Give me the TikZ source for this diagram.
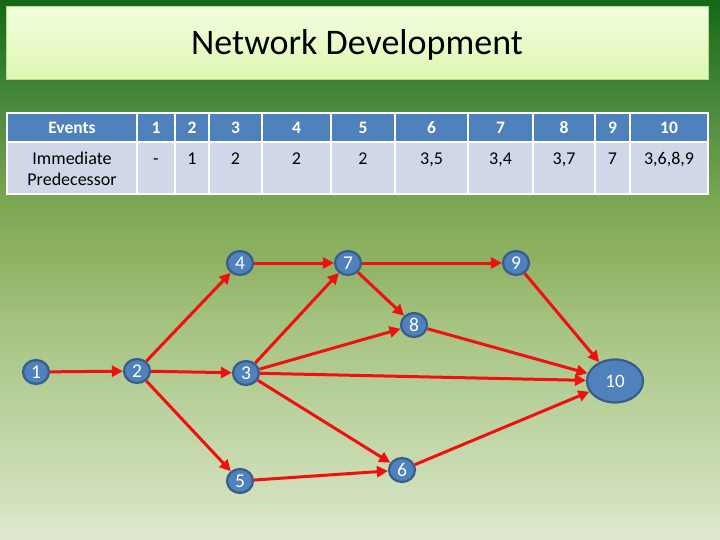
\documentclass[tikz,border=0pt]{standalone}
\usepackage{fontspec}
\setmainfont{Carlito}
\usetikzlibrary{arrows.meta,shapes.geometric}
\definecolor{bgA}{HTML}{E0E9D1}
\definecolor{bgB}{HTML}{D2E1BC}
\definecolor{bgC}{HTML}{A3C27F}
\definecolor{bgD}{HTML}{8FB264}
\definecolor{bgE}{HTML}{7AA752}
\definecolor{bgF}{HTML}{43843A}
\definecolor{bgG}{HTML}{156815}
\definecolor{hdrblue}{HTML}{4F81BD}
\definecolor{bodyblue}{HTML}{D0D8E8}
\definecolor{nodeborder}{HTML}{385D8A}
\definecolor{edgered}{HTML}{F01010}
\definecolor{titletop}{HTML}{F2FDDF}
\definecolor{titlebot}{HTML}{DFF7B2}
\definecolor{titleborder}{HTML}{B8DA8C}
\pgfdeclareverticalshading{bgshade}{100bp}{color(0bp)=(bgA); color(25bp)=(bgA); color(28.7bp)=(bgB); color(45.4bp)=(bgC); color(50.9bp)=(bgD); color(56.5bp)=(bgE); color(66.7bp)=(bgF); color(75bp)=(bgG); color(100bp)=(bgG)}
\tikzset{
  ev/.style={ellipse, draw=nodeborder, line width=2.2pt, fill=hdrblue, text=white,
    minimum width=26pt, minimum height=24pt, inner sep=0pt,
    font=\fontsize{19.5}{19.5}\selectfont},
  bigev/.style={ev, minimum width=56pt, minimum height=43pt, font=\fontsize{19}{19}\selectfont},
  arr/.style={draw=edgered, line width=3pt, -{Triangle[length=11pt,width=11pt]}},
  hdr/.style={anchor=base, text=white, inner sep=0pt, font=\fontsize{17.5}{20}\selectfont\bfseries},
  cell/.style={anchor=base, text=black, inner sep=0pt, font=\fontsize{18}{21}\selectfont},
}
\begin{document}
\begin{tikzpicture}[x=1pt,y=-1pt]
\useasboundingbox (0,0) rectangle (720,540);
\shade[shading=bgshade] (0,0) rectangle (720,540);
% title
\shade[top color=titletop, bottom color=titlebot, draw=titleborder, line width=1pt] (6,7) rectangle (708,80);
\node[anchor=base, inner sep=0pt, font=\fontsize{36}{36}\selectfont] (title) at (357,55) {Network Development};
% table
\fill[hdrblue] (7,113) rectangle (708,142);
\fill[bodyblue] (7,142) rectangle (708,194);
\foreach \x in {137,175,209,262,331,395,468,533,595,630}
  \draw[white, line width=2pt] (\x,113) -- (\x,194);
\draw[white, line width=2pt] (7,142) -- (708,142);
\draw[white, line width=2pt] (7,113) rectangle (708,194);
\node[hdr] (h0) at (72,133.5) {Events};
\node[hdr] (h1) at (156,133.5) {1};
\node[hdr] (h2) at (192,133.5) {2};
\node[hdr] (h3) at (235.5,133.5) {3};
\node[hdr] (h4) at (296.5,133.5) {4};
\node[hdr] (h5) at (363,133.5) {5};
\node[hdr] (h6) at (431.5,133.5) {6};
\node[hdr] (h7) at (500.5,133.5) {7};
\node[hdr] (h8) at (564,133.5) {8};
\node[hdr] (h9) at (612.5,133.5) {9};
\node[hdr] (h10) at (669,133.5) {10};
\node[cell, anchor=center, align=center] (b0) at (72,169) {Immediate\\Predecessor};
\node[cell] (b1) at (156,164.5) {-};
\node[cell] (b2) at (192,164.5) {1};
\node[cell] (b3) at (235.5,164.5) {2};
\node[cell] (b4) at (296.5,164.5) {2};
\node[cell] (b5) at (363,164.5) {2};
\node[cell] (b6) at (431.5,164.5) {3,5};
\node[cell] (b7) at (500.5,164.5) {3,4};
\node[cell] (b8) at (564,164.5) {3,7};
\node[cell] (b9) at (612.5,164.5) {7};
\node[cell] (b10) at (669,164.5) {3,6,8,9};
% network
\node[ev] (n1) at (36,372) {1};
\node[ev] (n2) at (137,371) {2};
\node[ev] (n3) at (246,373) {3};
\node[ev] (n4) at (240,263) {4};
\node[ev] (n5) at (240,481) {5};
\node[ev] (n6) at (402,470) {6};
\node[ev] (n7) at (348,263) {7};
\node[ev] (n8) at (414,325) {8};
\node[ev] (n9) at (516,263) {9};
\node[bigev] (n10) at (615,381) {10};
\draw[arr] (n1) -- (n2);
\draw[arr] (n2) -- (n4);
\draw[arr] (n2) -- (n3);
\draw[arr] (n2) -- (n5);
\draw[arr] (n4) -- (n7);
\draw[arr] (n3) -- (n7);
\draw[arr] (n3) -- (n8);
\draw[arr] (n3) -- (n10);
\draw[arr] (n3) -- (n6);
\draw[arr] (n5) -- (n6);
\draw[arr] (n6) -- (n10);
\draw[arr] (n7) -- (n8);
\draw[arr] (n7) -- (n9);
\draw[arr] (n8) -- (n10);
\draw[arr] (n9) -- (n10);
\end{tikzpicture}
\end{document}
